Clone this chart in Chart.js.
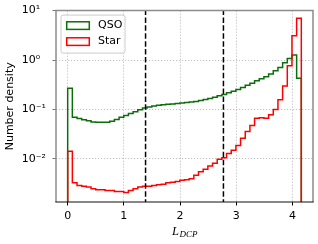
<!DOCTYPE html>
<html>
<head>
<meta charset="utf-8">
<script src="https://cdn.jsdelivr.net/npm/chart.js@4.4.1/dist/chart.umd.min.js"></script>
<style>
html, body { margin: 0; padding: 0; background: #fff; }
</style>
</head>
<body>
<canvas id="c" width="318" height="244"></canvas>
<script>
// 50 bins on [0, ln 64]
const binMax = Math.log(64);
const nBins = 50;

const qso = [
  0.27, 0.070, 0.066, 0.062, 0.059, 0.056, 0.055, 0.055, 0.055, 0.058,
  0.063, 0.070, 0.076, 0.083, 0.090, 0.099, 0.107, 0.113, 0.118, 0.122,
  0.125, 0.128, 0.130, 0.133, 0.136, 0.139, 0.142, 0.146, 0.152, 0.160,
  0.168, 0.178, 0.190, 0.202, 0.218, 0.235, 0.255, 0.28, 0.31, 0.34,
  0.38, 0.42, 0.46, 0.52, 0.61, 0.71, 0.88, 1.08, 1.26, 0.43
];
const star = [
  0.0143, 0.0033, 0.0029, 0.0028, 0.0027, 0.0025, 0.0024, 0.0024, 0.0023, 0.0023,
  0.0022, 0.0022, 0.0021, 0.0023, 0.0025, 0.0027, 0.0028, 0.0028, 0.0029, 0.0030,
  0.0031, 0.0033, 0.0034, 0.0035, 0.0037, 0.0038, 0.0040, 0.0047, 0.0055, 0.0062,
  0.0072, 0.0082, 0.0099, 0.0106, 0.0129, 0.015, 0.0188, 0.0264, 0.036, 0.0475,
  0.067, 0.068, 0.067, 0.078, 0.10, 0.157, 0.30, 0.77, 3.1, 7.0
];
const cuts = [Math.log(4), Math.log(16)];

const xTicks = [0, 1, 2, 3, 4];
const yTicks = [1e-2, 1e-1, 1, 10];
const yTickLabels = ['10⁻²', '10⁻¹', '10⁰', '10¹'];

const floor = 1e-5;
const w = binMax / nBins;

function stepPoints(vals) {
  const pts = [{x: 0, y: floor}];
  vals.forEach((v, i) => pts.push({x: i * w, y: v}));
  pts.push({x: nBins * w, y: vals[nBins - 1]});
  pts.push({x: nBins * w, y: floor});
  return pts;
}

function histSet(label, vals, color, order) {
  return {
    label: label, data: stepPoints(vals), borderColor: color, borderWidth: 1.5,
    stepped: 'before', pointRadius: 0, fill: false, order: order
  };
}

const cutSets = cuts.map(c => ({
  label: 'cut', data: [{x: c, y: floor}, {x: c, y: 100}],
  borderColor: '#000', borderWidth: 1.5, borderDash: [5.5, 2.4],
  pointRadius: 0, fill: false, order: 0
}));

const decor = {
  id: 'decor',
  afterDraw(chart) {
    const {ctx, chartArea: a} = chart;
    ctx.save();
    // spines
    ctx.lineWidth = 1.5;
    ctx.strokeStyle = '#8c8c8c';
    ctx.beginPath();
    ctx.moveTo(a.left, a.bottom); ctx.lineTo(a.left, a.top);
    ctx.lineTo(a.right, a.top); ctx.lineTo(a.right, a.bottom);
    ctx.stroke();
    ctx.lineWidth = 1.2;
    ctx.strokeStyle = '#111';
    ctx.beginPath();
    ctx.moveTo(a.left - 0.7, a.bottom); ctx.lineTo(a.right + 0.7, a.bottom);
    ctx.stroke();

    // legend
    const lx = a.left + 5, ly = a.top + 4.5;
    ctx.fillStyle = 'rgba(255,255,255,0.8)';
    ctx.strokeStyle = '#cccccc';
    ctx.lineWidth = 1;
    ctx.beginPath();
    ctx.roundRect(lx, ly, 64, 38, 2);
    ctx.fill(); ctx.stroke();
    ctx.lineWidth = 1.5;
    ctx.strokeStyle = '#0a6e0a';
    ctx.strokeRect(lx + 5.7, ly + 6.7, 22.6, 7.6);
    ctx.strokeStyle = '#ff0000';
    ctx.strokeRect(lx + 5.7, ly + 22.7, 22.6, 7.6);
    ctx.fillStyle = '#000';
    ctx.font = '11px "DejaVu Sans"';
    ctx.textBaseline = 'middle';
    ctx.textAlign = 'left';
    ctx.fillText('QSO', lx + 37, ly + 10.5);
    ctx.fillText('Star', lx + 37, ly + 26.5);

    // y title
    ctx.save();
    ctx.translate(10, (a.top + a.bottom) / 2);
    ctx.rotate(-Math.PI / 2);
    ctx.textAlign = 'center';
    ctx.fillText('Number density', 0, 0);
    ctx.restore();

    // x title
    ctx.textBaseline = 'alphabetic';
    const big = 'italic 12.5px "Liberation Serif"', small = 'italic 9px "Liberation Serif"';
    ctx.font = big; const wL = ctx.measureText('L').width;
    ctx.font = small; const wS = ctx.measureText('DCP').width;
    const sx = (a.left + a.right) / 2 - (wL + wS) / 2;
    ctx.font = big; ctx.fillText('L', sx, 235.3);
    ctx.font = small; ctx.fillText('DCP', sx + wL + 0.5, 237.3);
    ctx.restore();
  }
};

new Chart(document.getElementById('c').getContext('2d'), {
  type: 'line',
  data: {
    datasets: [histSet('QSO', qso, '#0a6e0a', 2), histSet('Star', star, '#ff0000', 1)].concat(cutSets)
  },
  options: {
    responsive: false,
    animation: false,
    devicePixelRatio: 1,
    layout: {padding: {left: 21.7, right: 5, top: 9.5, bottom: 0}},
    plugins: {legend: {display: false}, tooltip: {enabled: false}},
    scales: {
      x: {
        type: 'linear', min: -0.208, max: 4.367, bounds: 'data',
        afterBuildTicks: s => { s.ticks = xTicks.map(v => ({value: v})); },
        afterFit: s => { s.height = 42; },
        ticks: {
          padding: 4, color: '#000', font: {family: 'DejaVu Sans', size: 11},
          callback: v => String(v), maxRotation: 0
        },
        grid: {color: '#b0b0b0', lineWidth: 0.8, tickLength: 3.5, tickColor: '#000', tickWidth: 1, tickBorderDash: []},
        border: {display: false, dash: [1.2, 1.8]}
      },
      y: {
        type: 'logarithmic', min: 1.35e-3, max: 10, bounds: 'data',
        afterBuildTicks: s => { s.ticks = yTicks.map(v => ({value: v})); },
        afterFit: s => { s.width = 34.3; },
        ticks: {
          crossAlign: 'far', padding: 4, color: '#000', font: {family: 'DejaVu Sans', size: 11},
          callback: (v, i) => yTickLabels[i]
        },
        grid: {color: '#b0b0b0', lineWidth: 0.8, tickLength: 3.5, tickColor: '#777', tickWidth: 1, tickBorderDash: []},
        border: {display: false, dash: [1.2, 1.8]}
      }
    }
  },
  plugins: [decor]
});
</script>
</body>
</html>
